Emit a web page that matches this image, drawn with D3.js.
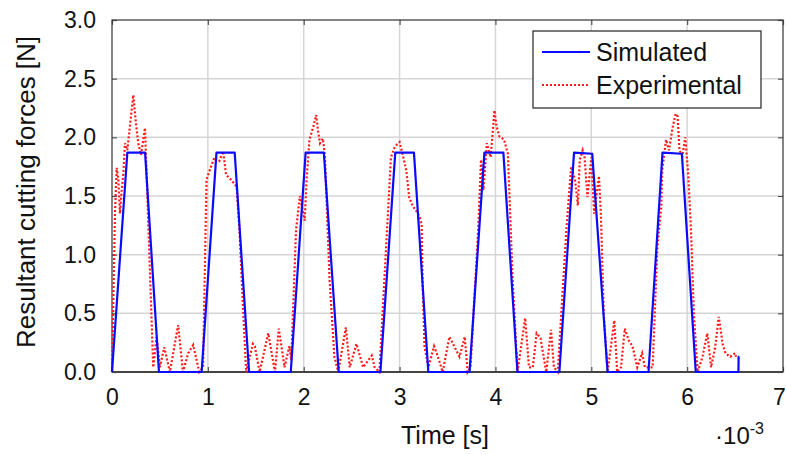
<!DOCTYPE html>
<html>
<head>
<meta charset="utf-8">
<script src="https://cdn.jsdelivr.net/npm/d3@7"></script>
<style>
  body { margin: 0; background: #fff; }
  text { font-family: "Liberation Sans", Arial, sans-serif; fill: #111; }
</style>
</head>
<body>
<div id="chart"></div>
<script>
// time in ms (axis shows x 10^-3 s), force in N
const simTime = [0, 0.16, 0.345, 0.49, 0.935, 1.09, 1.28, 1.43, 1.865, 2.02, 2.21, 2.365, 2.80, 2.955, 3.15, 3.30, 3.73, 3.885, 4.083, 4.23, 4.667, 4.82, 5.01, 5.17, 5.597, 5.743, 5.945, 6.09, 6.535, 6.537, 6.545];
const simForce = [0, 1.87, 1.87, 0, 0, 1.87, 1.87, 0, 0, 1.87, 1.87, 0, 0, 1.87, 1.87, 0, 0, 1.87, 1.87, 0, 0, 1.87, 1.86, 0, 0, 1.87, 1.86, 0, 0, 0.13, 0.13];

const expTime = [0, 0.031, 0.049, 0.066, 0.083, 0.101, 0.118, 0.135, 0.16, 0.194, 0.222, 0.25, 0.274, 0.302, 0.326, 0.344, 0.361, 0.43,
  0.465, 0.5, 0.545, 0.604, 0.69, 0.74, 0.795, 0.847, 0.91, 0.95, 0.986, 1.02, 1.07, 1.12, 1.16, 1.19, 1.23, 1.30, 1.33, 1.37, 1.40,
  1.47, 1.49, 1.54, 1.63, 1.70, 1.74, 1.80, 1.85, 1.87, 1.92, 1.96, 1.995, 2.01, 2.03, 2.06, 2.10, 2.13, 2.15, 2.17, 2.20, 2.22, 2.27, 2.32, 2.36,
  2.44, 2.48, 2.55, 2.62, 2.71, 2.74, 2.79, 2.86, 2.91, 2.95, 3.0, 3.03, 3.07, 3.10, 3.14, 3.17, 3.21, 3.23, 3.24, 3.26, 3.30,
  3.36, 3.40, 3.45, 3.52, 3.57, 3.625, 3.68, 3.71, 3.74, 3.82, 3.85, 3.875, 3.91, 3.95, 3.99, 4.01, 4.04, 4.09, 4.13, 4.18, 4.23,
  4.31, 4.35, 4.39, 4.43, 4.47, 4.53, 4.58, 4.61, 4.65, 4.74, 4.79, 4.83, 4.86, 4.88, 4.91, 4.93, 4.96, 5.0, 5.03, 5.08, 5.10, 5.13, 5.17,
  5.24, 5.27, 5.31, 5.35, 5.39, 5.43, 5.48, 5.53, 5.56, 5.64, 5.69, 5.73, 5.74, 5.78, 5.81, 5.85, 5.88, 5.90, 5.92, 5.95, 5.98, 6.01, 6.04, 6.07, 6.11,
  6.16, 6.21, 6.25, 6.29, 6.33, 6.37, 6.40, 6.45, 6.50, 6.51];
const expForce = [0, 1.35, 1.74, 1.64, 1.35, 1.55, 1.69, 1.95, 1.89, 2.15, 2.36, 2.12, 1.95, 1.85, 1.98, 2.08, 1.69, 0.04,
  0.30, 0.04, 0.21, 0, 0.40, 0, 0.16, 0.23, 0, 0.04, 1.64, 1.72, 1.83, 1.80, 1.88, 1.68, 1.65, 1.58, 1.21, 0.50, 0,
  0.24, 0.22, 0, 0.33, 0, 0.37, 0.04, 0.22, 0.10, 1.21, 1.50, 1.35, 1.29, 1.64, 1.98, 2.09, 2.19, 2.05, 1.95, 1.99, 1.85, 0.78, 0.13, 0,
  0.38, 0.04, 0.24, 0.04, 0.14, 0.04, 0, 1.07, 1.83, 1.92, 1.96, 1.86, 1.72, 1.49, 1.41, 1.38, 1.32, 1.26, 0.78, 0.22, 0.04,
  0.22, 0.13, 0, 0.30, 0.22, 0.13, 0.30, 0, 0.04, 1.21, 1.81, 1.55, 1.95, 1.83, 2.23, 2.10, 2.01, 1.98, 1.86, 0.78, 0,
  0.46, 0.04, 0.04, 0.33, 0.29, 0, 0.36, 0.04, 0, 1.21, 1.75, 1.64, 1.42, 1.81, 1.89, 1.83, 1.49, 1.83, 1.35, 1.67, 1.35, 0.50, 0,
  0.44, 0, 0.04, 0.37, 0.27, 0.22, 0.04, 0.16, 0.04, 0.04, 1.07, 1.41, 1.72, 1.98, 1.89, 2.09, 2.20, 2.18, 1.89, 1.84, 2.00, 1.70, 1.21, 0.50, 0,
  0.13, 0.33, 0.04, 0.20, 0.47, 0.24, 0.16, 0.13, 0.16, 0.13];

const xTicks = [0, 1, 2, 3, 4, 5, 6, 7];
const yTicks = [0, 0.5, 1, 1.5, 2, 2.5, 3];
const seriesNames = ["Simulated", "Experimental"];

const W = 787, H = 455;
const m = { left: 112, top: 20, right: 4, bottom: 83 };
const iw = W - m.left - m.right, ih = H - m.top - m.bottom;

const svg = d3.select("#chart").append("svg").attr("width", W).attr("height", H);
const g = svg.append("g").attr("transform", `translate(${m.left},${m.top})`);

const x = d3.scaleLinear().domain([0, 7]).range([0, iw]);
const y = d3.scaleLinear().domain([0, 3]).range([ih, 0]);

// grid
g.append("g").selectAll("line").data(xTicks.slice(1, -1)).join("line")
  .attr("x1", d => x(d)).attr("x2", d => x(d)).attr("y1", 0).attr("y2", ih)
  .attr("stroke", "#d6d6d6").attr("stroke-width", 1.5);
g.append("g").selectAll("line").data(yTicks.slice(1, -1)).join("line")
  .attr("y1", d => y(d)).attr("y2", d => y(d)).attr("x1", 0).attr("x2", iw)
  .attr("stroke", "#d6d6d6").attr("stroke-width", 1.5);

// axes (ticks point inwards)
const xAxis = g.append("g").attr("transform", `translate(0,${ih})`)
  .call(d3.axisBottom(x).tickValues(xTicks).tickFormat(d3.format("d")).tickSize(-5).tickPadding(17));
const yAxis = g.append("g")
  .call(d3.axisLeft(y).tickValues(yTicks).tickFormat(d3.format(".1f")).tickSize(-5).tickPadding(16));
g.append("g").attr("transform", `translate(${iw},0)`)
  .call(d3.axisRight(y).tickValues(yTicks).tickFormat("").tickSize(-5))
  .call(a => a.select(".domain").remove());
g.append("g")
  .call(d3.axisTop(x).tickValues(xTicks).tickFormat("").tickSize(-5))
  .call(a => a.select(".domain").remove());
g.selectAll(".tick line").attr("stroke", "#555").attr("stroke-width", 1.2);
[xAxis, yAxis].forEach(a => {
  a.select(".domain").remove();
  a.selectAll("text").attr("font-size", 23).attr("font-family", "Liberation Sans, Arial, sans-serif").attr("fill", "#111");
});
// last x label sits at the page edge; nudge it in a little
xAxis.selectAll(".tick text").filter(d => d === 7).attr("dx", -4);

// frame
g.append("rect").attr("width", iw).attr("height", ih)
  .attr("fill", "none").attr("stroke", "#333").attr("stroke-width", 1.2);
g.append("line").attr("x1", 0).attr("x2", iw).attr("y1", ih).attr("y2", ih)
  .attr("stroke", "#444").attr("stroke-width", 2);

// lines
const line = d3.line().x(d => x(d[0])).y(d => y(d[1]));
g.append("path").datum(expTime.map((t, i) => [t, expForce[i]]))
  .attr("fill", "none").attr("stroke", "#ff1a1a").attr("stroke-width", 2.2)
  .attr("stroke-dasharray", "2,2").attr("d", line);
g.append("path").datum(simTime.map((t, i) => [t, simForce[i]]))
  .attr("fill", "none").attr("stroke", "#0a0aff").attr("stroke-width", 2.2)
  .attr("stroke-linejoin", "round").attr("d", line);

// axis titles
svg.append("text").attr("x", 445).attr("y", 444).attr("text-anchor", "middle")
  .attr("font-size", 25).text("Time [s]");
const sc = svg.append("text").attr("x", 764).attr("y", 444).attr("text-anchor", "end").attr("font-size", 24);
sc.append("tspan").text("\u00b710");
sc.append("tspan").attr("font-size", 16).attr("dy", -10).text("-3");
svg.append("text").attr("transform", "translate(35,192) rotate(-90)").attr("text-anchor", "middle")
  .attr("font-size", 26).text("Resultant cutting forces [N]");

// legend
const lg = svg.append("g").attr("transform", "translate(533,31)");
lg.append("rect").attr("width", 228).attr("height", 77).attr("fill", "#fff")
  .attr("stroke", "#222").attr("stroke-width", 1.2);
const styles = [{ c: "#0a0aff", dash: null }, { c: "#ff1a1a", dash: "2,2" }];
seriesNames.forEach((n, i) => {
  const yy = 21 + i * 33;
  lg.append("line").attr("x1", 9).attr("x2", 57).attr("y1", yy).attr("y2", yy)
    .attr("stroke", styles[i].c).attr("stroke-width", 2.2).attr("stroke-dasharray", styles[i].dash);
  lg.append("text").attr("x", 63).attr("y", yy + 9).attr("font-size", 25).text(n);
});
</script>
</body>
</html>
